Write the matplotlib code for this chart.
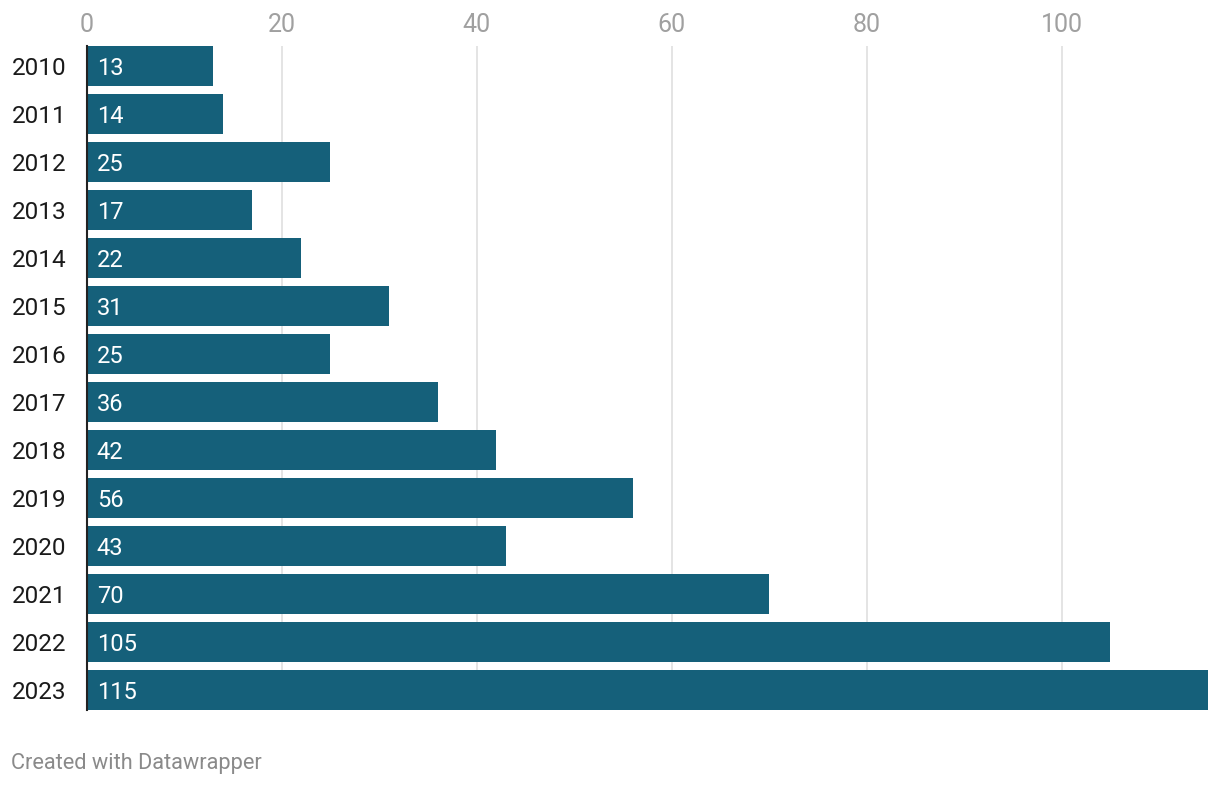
import matplotlib
matplotlib.use("Agg")
import matplotlib.pyplot as plt

plt.rcParams["font.family"] = ["Roboto", "DejaVu Sans"]

years = ["2010", "2011", "2012", "2013", "2014", "2015", "2016",
         "2017", "2018", "2019", "2020", "2021", "2022", "2023"]
values = [13, 14, 25, 17, 22, 31, 25, 36, 42, 56, 43, 70, 105, 115]
xticks = [0, 20, 40, 60, 80, 100]

bar_color = "#15607a"

fig = plt.figure(figsize=(12.2, 7.86), dpi=100)
W, H = 1220, 786
ax = fig.add_axes([86.5 / W, 1 - 710 / H, (1208 - 86.5) / W, (710 - 46) / H])

pos = list(range(len(years)))
ax.barh(pos, values, height=40 / 48, color=bar_color, zorder=2)
for p, v in zip(pos, values):
    ax.annotate(str(v), (0, p), xytext=(7.5, 0), textcoords="offset points",
                va="center_baseline", ha="left", color="white", fontsize=17, zorder=3)

ax.set_xlim(0, 115)
ax.set_ylim(len(years) - 1 + 20 / 48, -20 / 48)
ax.set_yticks(pos)
ax.set_yticklabels(years)
ax.set_xticks(xticks)
ax.xaxis.tick_top()
ax.tick_params(axis="x", length=0, pad=6.5, labelsize=18, labelcolor="#a0a0a0")
ax.tick_params(axis="y", length=0, pad=14.5, labelsize=17.5, labelcolor="#1a1a1a")
ax.grid(axis="x", color="#e2e2e2", linewidth=1.3, zorder=0)
for s in ["top", "right", "bottom"]:
    ax.spines[s].set_visible(False)
ax.spines["left"].set_color("#222222")
ax.spines["left"].set_linewidth(1.5)
ax.spines["left"].set_zorder(4)

fig.text(11 / W, 1 - 763 / H, "Created with Datawrapper", ha="left", va="center",
         fontsize=15.7, color="#8a8a8a")

fig.savefig("out.png", dpi=100)
